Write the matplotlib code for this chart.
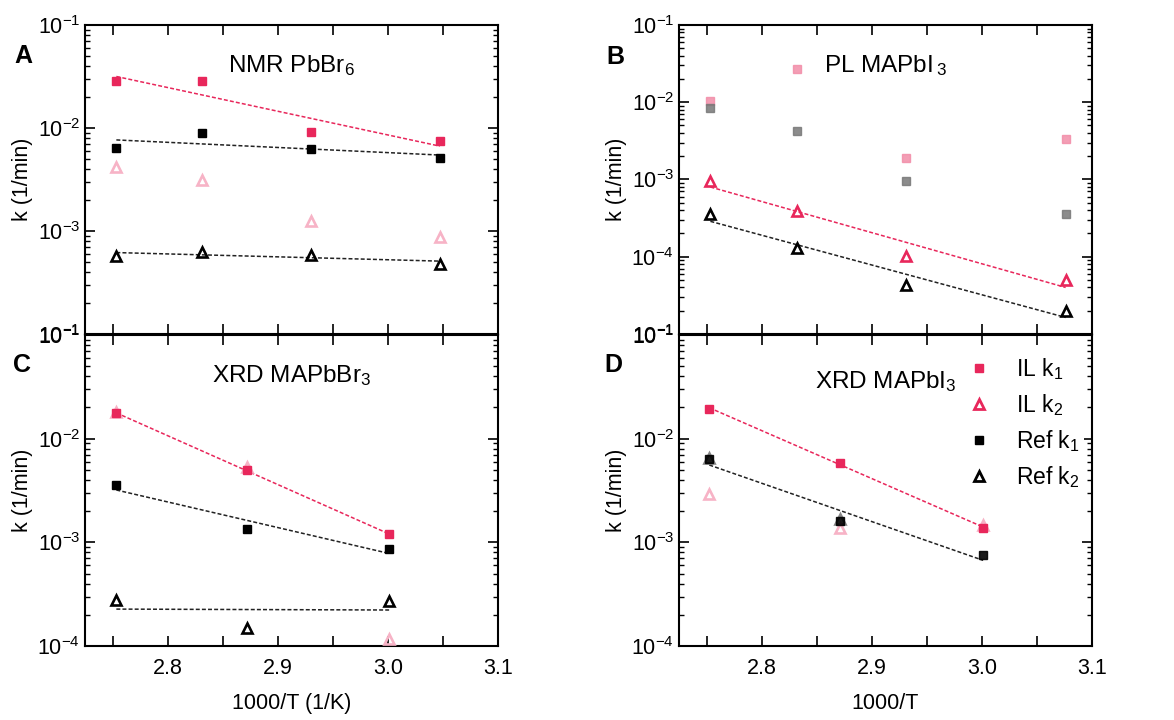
import numpy as np
import matplotlib
matplotlib.use("Agg")
import matplotlib.pyplot as plt
from matplotlib.ticker import MultipleLocator, LogLocator, NullFormatter, FixedLocator, FixedFormatter

plt.rcParams['font.family'] = ['Liberation Sans', 'DejaVu Sans']
plt.rcParams['mathtext.default'] = 'regular'

# ---- data (1000/T in 1/K, k in 1/min) ----
# Panel A: NMR PbBr6
xA = [2.753, 2.831, 2.930, 3.047]
A_IL_k1 = [2.85e-2, 2.85e-2, 9.1e-3, 7.4e-3]
A_IL_k2 = [4.2e-3, 3.15e-3, 1.25e-3, 8.7e-4]
A_Ref_k1 = [6.4e-3, 8.9e-3, 6.3e-3, 5.1e-3]
A_Ref_k2 = [5.7e-4, 6.3e-4, 5.9e-4, 4.8e-4]
# Panel B: PL MAPbI3
xB = [2.753, 2.832, 2.931, 3.076]
B_IL_k1 = [1.04e-2, 2.73e-2, 1.88e-3, 3.36e-3]
B_IL_k2 = [9.5e-4, 3.9e-4, 1.02e-4, 5.0e-5]
B_Ref_k1 = [8.3e-3, 4.3e-3, 9.7e-4, 3.6e-4]
B_Ref_k2 = [3.56e-4, 1.30e-4, 4.3e-5, 2.0e-5]
# Panel C: XRD MAPbBr3
xC = [2.753, 2.872, 3.001]
C_IL_k1 = [1.75e-2, 5.0e-3, 1.19e-3]
C_IL_k2 = [1.8e-2, 5.3e-3, 1.16e-4]
C_Ref_k1 = [3.55e-3, 1.33e-3, 8.6e-4]
C_Ref_k2 = [2.8e-4, 1.5e-4, 2.7e-4]
# Panel D: XRD MAPbI3
xD = [2.752, 2.871, 3.001]
D_IL_k1 = [1.95e-2, 5.8e-3, 1.38e-3]
D_IL_k2 = [2.9e-3, 1.38e-3, 1.48e-3]
D_Ref_k1 = [6.3e-3, 1.6e-3, 7.5e-4]
D_Ref_k2 = [6.5e-3, 1.68e-3, np.nan]

titles = ["NMR PbBr$_6$", "PL MAPbI$_{\\,3}$", "XRD MAPbBr$_3$", "XRD MAPbI$_3$"]
letters = ["A", "B", "C", "D"]
xticks = [2.8, 2.9, 3.0, 3.1]

CRIM = "#E8275B"
PINK = "#F7B3C6"
BFADE_PINK = "#F28DA8"
BFADE_GRAY = "#787878"

fig = plt.figure(figsize=(11.74, 7.2), dpi=100)
W = 0.3518
axA = fig.add_axes([0.0724, 0.5361, W, 0.4292])
axB = fig.add_axes([0.5784, 0.5361, W, 0.4292])
axC = fig.add_axes([0.0724, 0.1028, W, 0.4319])
axD = fig.add_axes([0.5784, 0.1028, W, 0.4319])

ms_sq = 6.4
ms_tr = 7.0
mew_tr = 1.9


def fit_line(ax, x, y, color):
    x = np.asarray(x, float)
    y = np.asarray(y, float)
    m = ~np.isnan(y)
    p = np.polyfit(x[m], np.log10(y[m]), 1)
    xx = np.array([x[m].min(), x[m].max()])
    ax.plot(xx, 10 ** np.polyval(p, xx), ls=(0, (2.6, 1.4)), color=color, lw=1.1, zorder=2)


def sq(ax, x, y, color, **kw):
    ax.plot(x, y, ls='none', marker='s', ms=ms_sq, color=color, mec=color, mew=1.0, zorder=4, **kw)


def tri(ax, x, y, color, **kw):
    ax.plot(x, y, ls='none', marker='^', ms=ms_tr, mfc='none', mec=color, mew=mew_tr, zorder=3, **kw)


# Panel A
fit_line(axA, xA, A_IL_k1, CRIM)
fit_line(axA, xA, A_Ref_k1, '#222222')
fit_line(axA, xA, A_Ref_k2, '#222222')
sq(axA, xA, A_IL_k1, CRIM)
sq(axA, xA, A_Ref_k1, 'black')
tri(axA, xA, A_IL_k2, PINK)
tri(axA, xA, A_Ref_k2, 'black')

# Panel B
fit_line(axB, xB, B_IL_k2, CRIM)
fit_line(axB, xB, B_Ref_k2, '#222222')
sq(axB, xB, B_IL_k1, BFADE_PINK, alpha=0.85)
sq(axB, xB, B_Ref_k1, BFADE_GRAY, alpha=0.85)
tri(axB, xB, B_IL_k2, CRIM)
tri(axB, xB, B_Ref_k2, 'black')

# Panel C
fit_line(axC, xC, C_IL_k1, CRIM)
fit_line(axC, xC, C_Ref_k1, '#222222')
fit_line(axC, xC, C_Ref_k2, '#222222')
tri(axC, xC, C_IL_k2, PINK)
sq(axC, xC, C_IL_k1, CRIM)
sq(axC, xC, C_Ref_k1, 'black')
tri(axC, xC, C_Ref_k2, 'black')

# Panel D
fit_line(axD, xD, D_IL_k1, CRIM)
fit_line(axD, xD, D_Ref_k1, '#222222')
tri(axD, xD, D_Ref_k2, '#888888')
sq(axD, xD, D_Ref_k1, 'black', alpha=0.9)
tri(axD, xD, D_IL_k2, PINK)
sq(axD, xD, D_IL_k1, CRIM)

# legend handles
hIL1, = axD.plot([], [], ls='none', marker='s', ms=5.5, color=CRIM)
hIL2, = axD.plot([], [], ls='none', marker='^', ms=6.5, mfc='none', mec=CRIM, mew=2.0)
hR1, = axD.plot([], [], ls='none', marker='s', ms=5.5, color='black')
hR2, = axD.plot([], [], ls='none', marker='^', ms=6.5, mfc='none', mec='black', mew=2.0)
leg = axD.legend([hIL1, hIL2, hR1, hR2], ["IL k$_1$", "IL k$_2$", "Ref k$_1$", "Ref k$_2$"],
                 loc='upper right', bbox_to_anchor=(1.008, 0.985), fontsize=16.5, frameon=True,
                 facecolor='white', edgecolor='none', framealpha=1, handletextpad=1.0,
                 labelspacing=0.45, borderpad=0.2, handlelength=1.2)
leg.set_zorder(6)

ylims = {axA: (1e-4, 1e-1), axB: (1e-5, 1e-1), axC: (1e-4, 1e-1), axD: (1e-4, 1e-1)}
for ax, title, letter in zip([axA, axB, axC, axD], titles, letters):
    ax.set_yscale('log')
    ax.set_xlim(2.7245, 3.1)
    ax.set_ylim(*ylims[ax])
    ax.xaxis.set_major_locator(FixedLocator(xticks))
    ax.xaxis.set_minor_locator(MultipleLocator(0.05))
    ax.yaxis.set_minor_locator(LogLocator(base=10, subs=np.arange(2, 10), numticks=20))
    ax.yaxis.set_minor_formatter(NullFormatter())
    ax.tick_params(which='both', direction='in', top=True, right=True, labelsize=15.5)
    ax.tick_params(axis='x', which='both', length=7, width=1.2)
    ax.tick_params(axis='y', which='major', length=7, width=1.2)
    ax.tick_params(axis='y', which='minor', length=3.5, width=1.0)
    for s in ax.spines.values():
        s.set_linewidth(1.5)
    ax.set_ylabel("k (1/min)", fontsize=15.5, labelpad=3)
    ty = 0.87 if ax is not axD else 0.85
    ax.text(0.5, ty, title, transform=ax.transAxes, ha='center', va='center', fontsize=17.5)

# y tick labels
axA.yaxis.set_major_locator(FixedLocator([1e-4, 1e-3, 1e-2, 1e-1]))
axA.yaxis.set_major_formatter(FixedFormatter(["$10^{-1}$", "$10^{-3}$", "$10^{-2}$", "$10^{-1}$"]))
axB.yaxis.set_major_locator(FixedLocator([1e-5, 1e-4, 1e-3, 1e-2, 1e-1]))
axB.yaxis.set_major_formatter(FixedFormatter(["$10^{-1}$", "$10^{-4}$", "$10^{-3}$", "$10^{-2}$", "$10^{-1}$"]))
for ax in (axC, axD):
    ax.yaxis.set_major_locator(FixedLocator([1e-4, 1e-3, 1e-2, 1e-1]))
    ax.yaxis.set_major_formatter(FixedFormatter(["$10^{-4}$", "$10^{-3}$", "$10^{-2}$", "$10^{-1}$"]))

for ax in (axA, axB):
    ax.tick_params(axis='x', labelbottom=False)
for ax in (axC, axD):
    ax.set_xticklabels(["2.8", "2.9", "3.0", "3.1"])
    ax.tick_params(axis='x', pad=9)
axC.set_xlabel("1000/T (1/K)", fontsize=15.5, labelpad=10)
axD.set_xlabel("1000/T", fontsize=15.5, labelpad=10)

# panel letters
fig.text(23 / 1174, 1 - 56 / 720, "A", fontsize=18, fontweight='bold', ha='center', va='center')
fig.text(615 / 1174, 1 - 57 / 720, "B", fontsize=18, fontweight='bold', ha='center', va='center')
fig.text(22 / 1174, 1 - 365 / 720, "C", fontsize=18, fontweight='bold', ha='center', va='center')
fig.text(613 / 1174, 1 - 365 / 720, "D", fontsize=18, fontweight='bold', ha='center', va='center')

fig.savefig("out.png", dpi=100)
